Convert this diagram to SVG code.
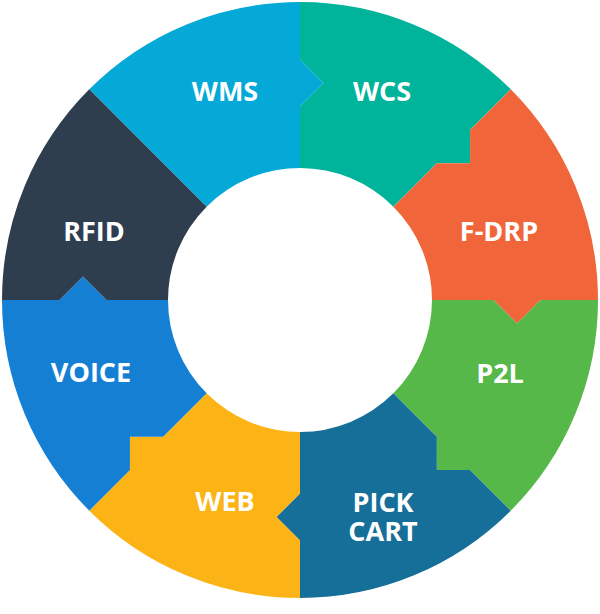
<svg xmlns="http://www.w3.org/2000/svg" width="600" height="614" viewBox="0 0 600 614">
<style>
.lbl{font-family:"Open Sans","Liberation Sans",sans-serif;font-weight:700;font-size:27px;fill:#ffffff;text-anchor:middle}
</style>
<rect width="600" height="614" fill="#ffffff"/>
<g id="connectors"></g>
<g id="wms">
<path fill="#04A9D7" d="M206.66,206.66 L89.28,89.28 A298,298 0 0 1 300,2 L300,59.5 L323.5,83 L300,106.5 L300,168 A132,132 0 0 0 206.66,206.66 Z"/>
<text class="lbl" x="225" y="101">WMS</text>
</g>
<g id="wcs">
<path fill="#00B39B" d="M300,168 L300,106.5 L323.5,83 L300,59.5 L300,2 A298,298 0 0 1 510.72,89.28 L470.06,129.94 L470.06,163.18 L436.83,163.17 L393.34,206.66 A132,132 0 0 0 300,168 Z"/>
<text class="lbl" x="382" y="101">WCS</text>
</g>
<g id="fdrp">
<path fill="#F0663A" d="M393.34,206.66 L436.83,163.17 L470.06,163.18 L470.06,129.94 L510.72,89.28 A298,298 0 0 1 598,300 L540.5,300 L517,323.5 L493.5,300 L432,300 A132,132 0 0 0 393.34,206.66 Z"/>
<text class="lbl" x="499" y="241">F-DRP</text>
</g>
<g id="p2l">
<path fill="#56B849" d="M432,300 L493.5,300 L517,323.5 L540.5,300 L598,300 A298,298 0 0 1 510.72,510.72 L470.06,470.06 L436.82,470.06 L436.83,436.83 L393.34,393.34 A132,132 0 0 0 432,300 Z"/>
<text class="lbl" x="500" y="383">P2L</text>
</g>
<g id="pickcart">
<path fill="#166F99" d="M393.34,393.34 L436.83,436.83 L436.82,470.06 L470.06,470.06 L510.72,510.72 A298,298 0 0 1 300,598 L300,540.5 L276.5,517 L300,493.5 L300,432 A132,132 0 0 0 393.34,393.34 Z"/>
<text class="lbl" x="383" y="512"><tspan x="383" y="512">PICK</tspan><tspan x="383" y="541">CART</tspan></text>
</g>
<g id="web">
<path fill="#FBB316" d="M300,432 L300,493.5 L276.5,517 L300,540.5 L300,598 A298,298 0 0 1 89.28,510.72 L129.94,470.06 L129.94,436.82 L163.17,436.83 L206.66,393.34 A132,132 0 0 0 300,432 Z"/>
<text class="lbl" x="225" y="511">WEB</text>
</g>
<g id="voice">
<path fill="#1580D3" d="M206.66,393.34 L163.17,436.83 L129.94,436.82 L129.94,470.06 L89.28,510.72 A298,298 0 0 1 2,300 L59.5,300 L83,276.5 L106.5,300 L168,300 A132,132 0 0 0 206.66,393.34 Z"/>
<text class="lbl" x="91" y="382">VOICE</text>
</g>
<g id="rfid">
<path fill="#2E3E4E" d="M168,300 L106.5,300 L83,276.5 L59.5,300 L2,300 A298,298 0 0 1 89.28,89.28 L206.66,206.66 A132,132 0 0 0 168,300 Z"/>
<text class="lbl" x="94" y="241">RFID</text>
</g>
</svg>
